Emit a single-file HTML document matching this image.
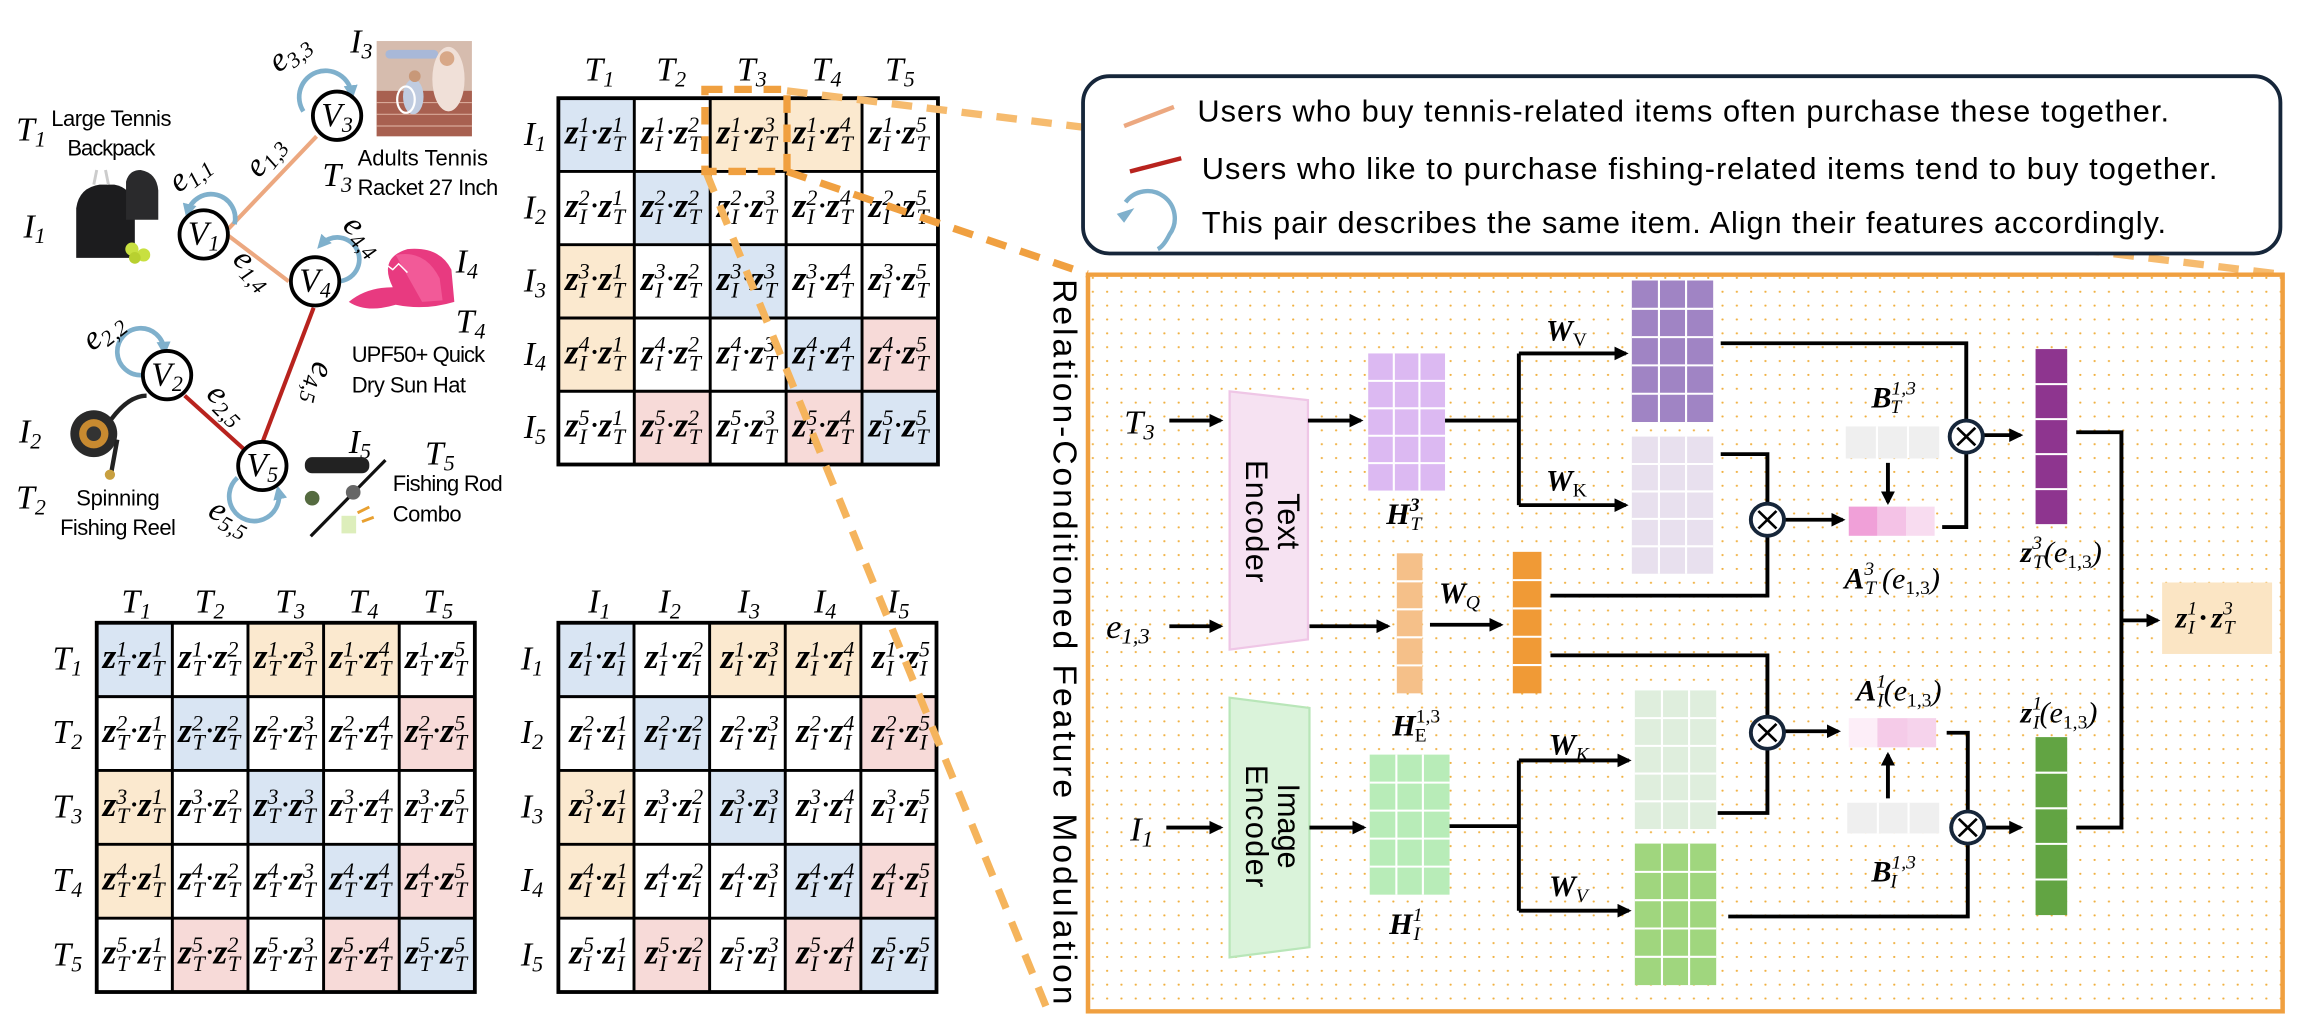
<!DOCTYPE html>
<html><head><meta charset="utf-8"><style>
html,body{margin:0;padding:0;background:#fff}
svg{display:block}
.c{font:italic 24px "Liberation Serif",serif}
.b{font-weight:bold}
.s{font-size:15px}
.m{font:italic 23px "Liberation Serif",serif}
.bm{font:bold italic 20px "Liberation Serif",serif}
.ss{font-size:13px}
.sans{font-family:"Liberation Sans",sans-serif}
</style></head><body>
<svg width="2298" height="1014" viewBox="0 0 1568 692" preserveAspectRatio="none" xmlns="http://www.w3.org/2000/svg">
<defs>
<marker id="a" viewBox="0 0 10 10" refX="8" refY="5" markerWidth="3.6" markerHeight="3.6" orient="auto"><path d="M0,0L10,5L0,10z" fill="#000"/></marker>
<marker id="bl" viewBox="0 0 10 10" refX="6" refY="5" markerWidth="3" markerHeight="3" orient="auto"><path d="M0,0L10,5L0,10z" fill="#7fb0cc"/></marker>
<pattern id="dots" width="9.5" height="9.5" patternUnits="userSpaceOnUse"><circle cx="4.7" cy="4.7" r="0.75" fill="#f0b040"/></pattern>
</defs>
<rect width="1568" height="692" fill="#fff"/>

<!-- ================= GRAPH ================= -->
<g stroke-width="2.8" fill="none">
<line x1="156" y1="156" x2="216" y2="93" stroke="#eca880"/>
<line x1="156" y1="161" x2="197" y2="192" stroke="#eca880"/>
<line x1="214" y1="210" x2="179" y2="302" stroke="#b8231e"/>
<line x1="126" y1="270" x2="167" y2="307" stroke="#b8231e"/>
</g>
<g stroke="#7fb0cc" stroke-width="3.2" fill="none" marker-end="url(#bl)">
<path d="M207,76 A18,18 0 1,1 240,64"/>
<path d="M160,153 A16,16 0 1,0 128,145"/>
<path d="M231,192 A15,15 0 1,0 219,167"/>
<path d="M97,256 A16,16 0 1,1 112,239"/>
<path d="M162,326 A17,17 0 1,0 190,335"/>
</g>
<g fill="#fff" stroke="#000" stroke-width="2.6">
<circle cx="139" cy="160" r="16.5"/><circle cx="230" cy="79" r="16.5"/><circle cx="215" cy="192" r="16.5"/><circle cx="114" cy="256" r="16.5"/><circle cx="179" cy="318" r="16.5"/>
</g>
<g class="m" text-anchor="middle">
<text x="139" y="167">V<tspan class="s" dy="4">1</tspan></text>
<text x="230" y="86">V<tspan class="s" dy="4">3</tspan></text>
<text x="215" y="199">V<tspan class="s" dy="4">4</tspan></text>
<text x="114" y="263">V<tspan class="s" dy="4">2</tspan></text>
<text x="179" y="325">V<tspan class="s" dy="4">5</tspan></text>
</g>
<g class="m" font-size="21">
<text transform="translate(190,50) rotate(-38)">e<tspan class="s" dy="4">3,3</tspan></text>
<text transform="translate(122,132) rotate(-38)">e<tspan class="s" dy="4">1,1</tspan></text>
<text transform="translate(177,122) rotate(-52)">e<tspan class="s" dy="4">1,3</tspan></text>
<text transform="translate(158,178) rotate(45)">e<tspan class="s" dy="4">1,4</tspan></text>
<text transform="translate(233,155) rotate(45)">e<tspan class="s" dy="4">4,4</tspan></text>
<text transform="translate(63,240) rotate(-38)">e<tspan class="s" dy="4">2,2</tspan></text>
<text transform="translate(140,270) rotate(45)">e<tspan class="s" dy="4">2,5</tspan></text>
<text transform="translate(214,246) rotate(102)">e<tspan class="s" dy="4">4,5</tspan></text>
<text transform="translate(141,352) rotate(28)">e<tspan class="s" dy="4">5,5</tspan></text>
</g>
<g class="m" font-size="24">
<text x="11" y="96">T<tspan class="s" dy="4">1</tspan></text>
<text x="16" y="162">I<tspan class="s" dy="4">1</tspan></text>
<text x="239" y="36">I<tspan class="s" dy="4">3</tspan></text>
<text x="220" y="127">T<tspan class="s" dy="4">3</tspan></text>
<text x="311" y="186">I<tspan class="s" dy="4">4</tspan></text>
<text x="311" y="227">T<tspan class="s" dy="4">4</tspan></text>
<text x="13" y="302">I<tspan class="s" dy="4">2</tspan></text>
<text x="11" y="347">T<tspan class="s" dy="4">2</tspan></text>
<text x="238" y="309">I<tspan class="s" dy="4">5</tspan></text>
<text x="290" y="317">T<tspan class="s" dy="4">5</tspan></text>
</g>
<g class="sans" font-size="15" fill="#000">
<text x="35" y="86" textLength="82">Large Tennis</text>
<text x="46" y="106" textLength="60">Backpack</text>
<text x="244" y="113" textLength="89">Adults Tennis</text>
<text x="244" y="133" textLength="96">Racket 27 Inch</text>
<text x="240" y="247" textLength="91">UPF50+ Quick</text>
<text x="240" y="268" textLength="78">Dry Sun Hat</text>
<text x="52" y="345" textLength="57">Spinning</text>
<text x="41" y="365" textLength="79">Fishing Reel</text>
<text x="268" y="335" textLength="75">Fishing Rod</text>
<text x="268" y="356" textLength="47">Combo</text>
</g>
<!-- images -->
<g>
<path d="M52,142 Q54,128 68,126 L78,126 Q90,128 92,142 L92,176 L52,176Z" fill="#1c1c1e"/>
<path d="M64,126 L66,116 M74,126 L72,116" stroke="#ccc" stroke-width="2"/>
<path d="M86,124 Q88,116 96,116 Q107,118 108,130 L108,150 L86,150Z" fill="#2a2a2c"/>
<circle cx="90" cy="170" r="4.5" fill="#c8e040"/><circle cx="98" cy="174" r="4.5" fill="#c8e040"/><circle cx="92" cy="176" r="4" fill="#b8d030"/>
<rect x="257" y="28" width="65" height="65" fill="#d6bcae"/>
<rect x="257" y="62" width="65" height="31" fill="#a86050"/>
<path d="M257,70 H322 M257,78 H322 M257,86 H322" stroke="#d8a898" stroke-width="0.8"/>
<rect x="263" y="34" width="36" height="6" rx="3" fill="#a8b8d8"/>
<ellipse cx="306" cy="54" rx="11" ry="22" fill="#f0e0d8"/><circle cx="305" cy="40" r="5" fill="#d8a888"/>
<ellipse cx="282" cy="66" rx="7" ry="12" fill="#c0cce0"/><circle cx="283" cy="52" r="4" fill="#c89878"/>
<ellipse cx="277" cy="68" rx="6" ry="9" fill="none" stroke="#fff" stroke-width="1.5"/>
<path d="M238,206 Q250,196 268,196 Q258,176 278,170 Q300,168 308,184 L310,206 Q290,212 270,208 Q250,214 238,206Z" fill="#e83a80"/>
<path d="M270,174 Q290,170 300,190 L302,205 L288,206Z" fill="#f25a98"/>
<path d="M258,186 l6,-5 l4,3 l4,-4 l6,6" stroke="#fff" stroke-width="1" fill="none"/>
<circle cx="64" cy="296" r="16" fill="#2a2a2a"/><circle cx="64" cy="296" r="10" fill="#c88a30"/><circle cx="64" cy="296" r="5" fill="#333"/>
<path d="M76,286 Q88,270 100,270 M80,300 L76,322" stroke="#222" stroke-width="3" fill="none"/>
<circle cx="75" cy="324" r="3.5" fill="#c8a040"/>
<rect x="208" y="312" width="44" height="11" rx="5" fill="#222"/>
<line x1="212" y1="366" x2="263" y2="314" stroke="#111" stroke-width="2.2"/>
<circle cx="241" cy="336" r="5" fill="#666"/>
<circle cx="213" cy="340" r="5" fill="#556b40"/>
<rect x="233" y="352" width="10" height="12" fill="#ddeebb"/>
<path d="M244,350 l8,-4 M247,356 l8,-3" stroke="#e8a030" stroke-width="2"/>
</g>

<!-- ================= TOP MATRIX ================= -->
<g>
<rect x="381" y="67" width="259" height="250" fill="#fff"/>
<g fill="#d9e5f3">
<rect x="381" y="67" width="51.8" height="50"/><rect x="432.8" y="117" width="51.8" height="50"/><rect x="484.6" y="167" width="51.8" height="50"/><rect x="536.4" y="217" width="51.8" height="50"/><rect x="588.2" y="267" width="51.8" height="50"/>
</g>
<g fill="#fbe9cf">
<rect x="484.6" y="67" width="51.8" height="50"/><rect x="536.4" y="67" width="51.8" height="50"/><rect x="381" y="167" width="51.8" height="50"/><rect x="381" y="217" width="51.8" height="50"/>
</g>
<g fill="#f7dad8">
<rect x="588.2" y="217" width="51.8" height="50"/><rect x="432.8" y="267" width="51.8" height="50"/><rect x="536.4" y="267" width="51.8" height="50"/>
</g>
<path d="M432.8,67V317M484.6,67V317M536.4,67V317M588.2,67V317M381,117H640M381,167H640M381,217H640M381,267H640" stroke="#000" stroke-width="2"/>
<rect x="381" y="67" width="259" height="250" fill="none" stroke="#000" stroke-width="2.6"/>
</g>
<g class="m" font-size="24" text-anchor="middle">
<text x="409" y="55">T<tspan class="s" dy="4">1</tspan></text><text x="458" y="55">T<tspan class="s" dy="4">2</tspan></text><text x="513" y="55">T<tspan class="s" dy="4">3</tspan></text><text x="564" y="55">T<tspan class="s" dy="4">4</tspan></text><text x="614" y="55">T<tspan class="s" dy="4">5</tspan></text>
<text x="365" y="99">I<tspan class="s" dy="4">1</tspan></text><text x="365" y="149">I<tspan class="s" dy="4">2</tspan></text><text x="365" y="199">I<tspan class="s" dy="4">3</tspan></text><text x="365" y="249">I<tspan class="s" dy="4">4</tspan></text><text x="365" y="299">I<tspan class="s" dy="4">5</tspan></text>
</g>
<g class="c" transform="translate(-1.5,0)">
<text x="387" y="98"><tspan class="b">z</tspan><tspan class="s" dy="-8">1</tspan><tspan class="s" dx="-7" dy="13">I</tspan><tspan dx="2" dy="-5">·</tspan><tspan class="b">z</tspan><tspan class="s" dy="-8">1</tspan><tspan class="s" dx="-7" dy="13">T</tspan></text>
<text x="438.8" y="98"><tspan class="b">z</tspan><tspan class="s" dy="-8">1</tspan><tspan class="s" dx="-7" dy="13">I</tspan><tspan dx="2" dy="-5">·</tspan><tspan class="b">z</tspan><tspan class="s" dy="-8">2</tspan><tspan class="s" dx="-7" dy="13">T</tspan></text>
<text x="490.6" y="98"><tspan class="b">z</tspan><tspan class="s" dy="-8">1</tspan><tspan class="s" dx="-7" dy="13">I</tspan><tspan dx="2" dy="-5">·</tspan><tspan class="b">z</tspan><tspan class="s" dy="-8">3</tspan><tspan class="s" dx="-7" dy="13">T</tspan></text>
<text x="542.4" y="98"><tspan class="b">z</tspan><tspan class="s" dy="-8">1</tspan><tspan class="s" dx="-7" dy="13">I</tspan><tspan dx="2" dy="-5">·</tspan><tspan class="b">z</tspan><tspan class="s" dy="-8">4</tspan><tspan class="s" dx="-7" dy="13">T</tspan></text>
<text x="594.2" y="98"><tspan class="b">z</tspan><tspan class="s" dy="-8">1</tspan><tspan class="s" dx="-7" dy="13">I</tspan><tspan dx="2" dy="-5">·</tspan><tspan class="b">z</tspan><tspan class="s" dy="-8">5</tspan><tspan class="s" dx="-7" dy="13">T</tspan></text>
<text x="387" y="148"><tspan class="b">z</tspan><tspan class="s" dy="-8">2</tspan><tspan class="s" dx="-7" dy="13">I</tspan><tspan dx="2" dy="-5">·</tspan><tspan class="b">z</tspan><tspan class="s" dy="-8">1</tspan><tspan class="s" dx="-7" dy="13">T</tspan></text>
<text x="438.8" y="148"><tspan class="b">z</tspan><tspan class="s" dy="-8">2</tspan><tspan class="s" dx="-7" dy="13">I</tspan><tspan dx="2" dy="-5">·</tspan><tspan class="b">z</tspan><tspan class="s" dy="-8">2</tspan><tspan class="s" dx="-7" dy="13">T</tspan></text>
<text x="490.6" y="148"><tspan class="b">z</tspan><tspan class="s" dy="-8">2</tspan><tspan class="s" dx="-7" dy="13">I</tspan><tspan dx="2" dy="-5">·</tspan><tspan class="b">z</tspan><tspan class="s" dy="-8">3</tspan><tspan class="s" dx="-7" dy="13">T</tspan></text>
<text x="542.4" y="148"><tspan class="b">z</tspan><tspan class="s" dy="-8">2</tspan><tspan class="s" dx="-7" dy="13">I</tspan><tspan dx="2" dy="-5">·</tspan><tspan class="b">z</tspan><tspan class="s" dy="-8">4</tspan><tspan class="s" dx="-7" dy="13">T</tspan></text>
<text x="594.2" y="148"><tspan class="b">z</tspan><tspan class="s" dy="-8">2</tspan><tspan class="s" dx="-7" dy="13">I</tspan><tspan dx="2" dy="-5">·</tspan><tspan class="b">z</tspan><tspan class="s" dy="-8">5</tspan><tspan class="s" dx="-7" dy="13">T</tspan></text>
<text x="387" y="198"><tspan class="b">z</tspan><tspan class="s" dy="-8">3</tspan><tspan class="s" dx="-7" dy="13">I</tspan><tspan dx="2" dy="-5">·</tspan><tspan class="b">z</tspan><tspan class="s" dy="-8">1</tspan><tspan class="s" dx="-7" dy="13">T</tspan></text>
<text x="438.8" y="198"><tspan class="b">z</tspan><tspan class="s" dy="-8">3</tspan><tspan class="s" dx="-7" dy="13">I</tspan><tspan dx="2" dy="-5">·</tspan><tspan class="b">z</tspan><tspan class="s" dy="-8">2</tspan><tspan class="s" dx="-7" dy="13">T</tspan></text>
<text x="490.6" y="198"><tspan class="b">z</tspan><tspan class="s" dy="-8">3</tspan><tspan class="s" dx="-7" dy="13">I</tspan><tspan dx="2" dy="-5">·</tspan><tspan class="b">z</tspan><tspan class="s" dy="-8">3</tspan><tspan class="s" dx="-7" dy="13">T</tspan></text>
<text x="542.4" y="198"><tspan class="b">z</tspan><tspan class="s" dy="-8">3</tspan><tspan class="s" dx="-7" dy="13">I</tspan><tspan dx="2" dy="-5">·</tspan><tspan class="b">z</tspan><tspan class="s" dy="-8">4</tspan><tspan class="s" dx="-7" dy="13">T</tspan></text>
<text x="594.2" y="198"><tspan class="b">z</tspan><tspan class="s" dy="-8">3</tspan><tspan class="s" dx="-7" dy="13">I</tspan><tspan dx="2" dy="-5">·</tspan><tspan class="b">z</tspan><tspan class="s" dy="-8">5</tspan><tspan class="s" dx="-7" dy="13">T</tspan></text>
<text x="387" y="248"><tspan class="b">z</tspan><tspan class="s" dy="-8">4</tspan><tspan class="s" dx="-7" dy="13">I</tspan><tspan dx="2" dy="-5">·</tspan><tspan class="b">z</tspan><tspan class="s" dy="-8">1</tspan><tspan class="s" dx="-7" dy="13">T</tspan></text>
<text x="438.8" y="248"><tspan class="b">z</tspan><tspan class="s" dy="-8">4</tspan><tspan class="s" dx="-7" dy="13">I</tspan><tspan dx="2" dy="-5">·</tspan><tspan class="b">z</tspan><tspan class="s" dy="-8">2</tspan><tspan class="s" dx="-7" dy="13">T</tspan></text>
<text x="490.6" y="248"><tspan class="b">z</tspan><tspan class="s" dy="-8">4</tspan><tspan class="s" dx="-7" dy="13">I</tspan><tspan dx="2" dy="-5">·</tspan><tspan class="b">z</tspan><tspan class="s" dy="-8">3</tspan><tspan class="s" dx="-7" dy="13">T</tspan></text>
<text x="542.4" y="248"><tspan class="b">z</tspan><tspan class="s" dy="-8">4</tspan><tspan class="s" dx="-7" dy="13">I</tspan><tspan dx="2" dy="-5">·</tspan><tspan class="b">z</tspan><tspan class="s" dy="-8">4</tspan><tspan class="s" dx="-7" dy="13">T</tspan></text>
<text x="594.2" y="248"><tspan class="b">z</tspan><tspan class="s" dy="-8">4</tspan><tspan class="s" dx="-7" dy="13">I</tspan><tspan dx="2" dy="-5">·</tspan><tspan class="b">z</tspan><tspan class="s" dy="-8">5</tspan><tspan class="s" dx="-7" dy="13">T</tspan></text>
<text x="387" y="298"><tspan class="b">z</tspan><tspan class="s" dy="-8">5</tspan><tspan class="s" dx="-7" dy="13">I</tspan><tspan dx="2" dy="-5">·</tspan><tspan class="b">z</tspan><tspan class="s" dy="-8">1</tspan><tspan class="s" dx="-7" dy="13">T</tspan></text>
<text x="438.8" y="298"><tspan class="b">z</tspan><tspan class="s" dy="-8">5</tspan><tspan class="s" dx="-7" dy="13">I</tspan><tspan dx="2" dy="-5">·</tspan><tspan class="b">z</tspan><tspan class="s" dy="-8">2</tspan><tspan class="s" dx="-7" dy="13">T</tspan></text>
<text x="490.6" y="298"><tspan class="b">z</tspan><tspan class="s" dy="-8">5</tspan><tspan class="s" dx="-7" dy="13">I</tspan><tspan dx="2" dy="-5">·</tspan><tspan class="b">z</tspan><tspan class="s" dy="-8">3</tspan><tspan class="s" dx="-7" dy="13">T</tspan></text>
<text x="542.4" y="298"><tspan class="b">z</tspan><tspan class="s" dy="-8">5</tspan><tspan class="s" dx="-7" dy="13">I</tspan><tspan dx="2" dy="-5">·</tspan><tspan class="b">z</tspan><tspan class="s" dy="-8">4</tspan><tspan class="s" dx="-7" dy="13">T</tspan></text>
<text x="594.2" y="298"><tspan class="b">z</tspan><tspan class="s" dy="-8">5</tspan><tspan class="s" dx="-7" dy="13">I</tspan><tspan dx="2" dy="-5">·</tspan><tspan class="b">z</tspan><tspan class="s" dy="-8">5</tspan><tspan class="s" dx="-7" dy="13">T</tspan></text>
</g>

<!-- ================= BOTTOM-LEFT MATRIX (T·T) ================= -->
<g>
<rect x="66" y="425" width="258" height="252" fill="#fff"/>
<g fill="#d9e5f3">
<rect x="66" y="425" width="51.6" height="50.4"/><rect x="117.6" y="475.4" width="51.6" height="50.4"/><rect x="169.2" y="525.8" width="51.6" height="50.4"/><rect x="220.8" y="576.2" width="51.6" height="50.4"/><rect x="272.4" y="626.6" width="51.6" height="50.4"/>
</g>
<g fill="#fbe9cf">
<rect x="169.2" y="425" width="51.6" height="50.4"/><rect x="220.8" y="425" width="51.6" height="50.4"/><rect x="66" y="525.8" width="51.6" height="50.4"/><rect x="66" y="576.2" width="51.6" height="50.4"/>
</g>
<g fill="#f7dad8">
<rect x="272.4" y="475.4" width="51.6" height="50.4"/><rect x="272.4" y="576.2" width="51.6" height="50.4"/><rect x="117.6" y="626.6" width="51.6" height="50.4"/><rect x="220.8" y="626.6" width="51.6" height="50.4"/>
</g>
<path d="M117.6,425V677M169.2,425V677M220.8,425V677M272.4,425V677M66,475.4H324M66,525.8H324M66,576.2H324M66,626.6H324" stroke="#000" stroke-width="2"/>
<rect x="66" y="425" width="258" height="252" fill="none" stroke="#000" stroke-width="2.6"/>
</g>
<!-- BOTTOM-RIGHT (I·I) -->
<g>
<rect x="381" y="425" width="258" height="252" fill="#fff"/>
<g fill="#d9e5f3">
<rect x="381" y="425" width="51.6" height="50.4"/><rect x="432.6" y="475.4" width="51.6" height="50.4"/><rect x="484.2" y="525.8" width="51.6" height="50.4"/><rect x="535.8" y="576.2" width="51.6" height="50.4"/><rect x="587.4" y="626.6" width="51.6" height="50.4"/>
</g>
<g fill="#fbe9cf">
<rect x="484.2" y="425" width="51.6" height="50.4"/><rect x="535.8" y="425" width="51.6" height="50.4"/><rect x="381" y="525.8" width="51.6" height="50.4"/><rect x="381" y="576.2" width="51.6" height="50.4"/>
</g>
<g fill="#f7dad8">
<rect x="587.4" y="475.4" width="51.6" height="50.4"/><rect x="587.4" y="576.2" width="51.6" height="50.4"/><rect x="432.6" y="626.6" width="51.6" height="50.4"/><rect x="535.8" y="626.6" width="51.6" height="50.4"/>
</g>
<path d="M432.6,425V677M484.2,425V677M535.8,425V677M587.4,425V677M381,475.4H639M381,525.8H639M381,576.2H639M381,626.6H639" stroke="#000" stroke-width="2"/>
<rect x="381" y="425" width="258" height="252" fill="none" stroke="#000" stroke-width="2.6"/>
</g>
<g class="m" font-size="24" text-anchor="middle">
<text x="93" y="418">T<tspan class="s" dy="4">1</tspan></text><text x="143" y="418">T<tspan class="s" dy="4">2</tspan></text><text x="198" y="418">T<tspan class="s" dy="4">3</tspan></text><text x="248" y="418">T<tspan class="s" dy="4">4</tspan></text><text x="299" y="418">T<tspan class="s" dy="4">5</tspan></text>
<text x="46" y="457">T<tspan class="s" dy="4">1</tspan></text><text x="46" y="507">T<tspan class="s" dy="4">2</tspan></text><text x="46" y="558">T<tspan class="s" dy="4">3</tspan></text><text x="46" y="608">T<tspan class="s" dy="4">4</tspan></text><text x="46" y="659">T<tspan class="s" dy="4">5</tspan></text>
<text x="409" y="418">I<tspan class="s" dy="4">1</tspan></text><text x="457" y="418">I<tspan class="s" dy="4">2</tspan></text><text x="511" y="418">I<tspan class="s" dy="4">3</tspan></text><text x="563" y="418">I<tspan class="s" dy="4">4</tspan></text><text x="613" y="418">I<tspan class="s" dy="4">5</tspan></text>
<text x="363" y="457">I<tspan class="s" dy="4">1</tspan></text><text x="363" y="507">I<tspan class="s" dy="4">2</tspan></text><text x="363" y="558">I<tspan class="s" dy="4">3</tspan></text><text x="363" y="608">I<tspan class="s" dy="4">4</tspan></text><text x="363" y="659">I<tspan class="s" dy="4">5</tspan></text>
</g>
<g class="c" transform="translate(-2,0)">
<text x="72" y="456"><tspan class="b">z</tspan><tspan class="s" dy="-8">1</tspan><tspan class="s" dx="-7" dy="13">T</tspan><tspan dy="-5">·</tspan><tspan class="b">z</tspan><tspan class="s" dy="-8">1</tspan><tspan class="s" dx="-7" dy="13">T</tspan></text>
<text x="123.6" y="456"><tspan class="b">z</tspan><tspan class="s" dy="-8">1</tspan><tspan class="s" dx="-7" dy="13">T</tspan><tspan dy="-5">·</tspan><tspan class="b">z</tspan><tspan class="s" dy="-8">2</tspan><tspan class="s" dx="-7" dy="13">T</tspan></text>
<text x="175.2" y="456"><tspan class="b">z</tspan><tspan class="s" dy="-8">1</tspan><tspan class="s" dx="-7" dy="13">T</tspan><tspan dy="-5">·</tspan><tspan class="b">z</tspan><tspan class="s" dy="-8">3</tspan><tspan class="s" dx="-7" dy="13">T</tspan></text>
<text x="226.8" y="456"><tspan class="b">z</tspan><tspan class="s" dy="-8">1</tspan><tspan class="s" dx="-7" dy="13">T</tspan><tspan dy="-5">·</tspan><tspan class="b">z</tspan><tspan class="s" dy="-8">4</tspan><tspan class="s" dx="-7" dy="13">T</tspan></text>
<text x="278.4" y="456"><tspan class="b">z</tspan><tspan class="s" dy="-8">1</tspan><tspan class="s" dx="-7" dy="13">T</tspan><tspan dy="-5">·</tspan><tspan class="b">z</tspan><tspan class="s" dy="-8">5</tspan><tspan class="s" dx="-7" dy="13">T</tspan></text>
<text x="72" y="506.4"><tspan class="b">z</tspan><tspan class="s" dy="-8">2</tspan><tspan class="s" dx="-7" dy="13">T</tspan><tspan dy="-5">·</tspan><tspan class="b">z</tspan><tspan class="s" dy="-8">1</tspan><tspan class="s" dx="-7" dy="13">T</tspan></text>
<text x="123.6" y="506.4"><tspan class="b">z</tspan><tspan class="s" dy="-8">2</tspan><tspan class="s" dx="-7" dy="13">T</tspan><tspan dy="-5">·</tspan><tspan class="b">z</tspan><tspan class="s" dy="-8">2</tspan><tspan class="s" dx="-7" dy="13">T</tspan></text>
<text x="175.2" y="506.4"><tspan class="b">z</tspan><tspan class="s" dy="-8">2</tspan><tspan class="s" dx="-7" dy="13">T</tspan><tspan dy="-5">·</tspan><tspan class="b">z</tspan><tspan class="s" dy="-8">3</tspan><tspan class="s" dx="-7" dy="13">T</tspan></text>
<text x="226.8" y="506.4"><tspan class="b">z</tspan><tspan class="s" dy="-8">2</tspan><tspan class="s" dx="-7" dy="13">T</tspan><tspan dy="-5">·</tspan><tspan class="b">z</tspan><tspan class="s" dy="-8">4</tspan><tspan class="s" dx="-7" dy="13">T</tspan></text>
<text x="278.4" y="506.4"><tspan class="b">z</tspan><tspan class="s" dy="-8">2</tspan><tspan class="s" dx="-7" dy="13">T</tspan><tspan dy="-5">·</tspan><tspan class="b">z</tspan><tspan class="s" dy="-8">5</tspan><tspan class="s" dx="-7" dy="13">T</tspan></text>
<text x="72" y="556.8"><tspan class="b">z</tspan><tspan class="s" dy="-8">3</tspan><tspan class="s" dx="-7" dy="13">T</tspan><tspan dy="-5">·</tspan><tspan class="b">z</tspan><tspan class="s" dy="-8">1</tspan><tspan class="s" dx="-7" dy="13">T</tspan></text>
<text x="123.6" y="556.8"><tspan class="b">z</tspan><tspan class="s" dy="-8">3</tspan><tspan class="s" dx="-7" dy="13">T</tspan><tspan dy="-5">·</tspan><tspan class="b">z</tspan><tspan class="s" dy="-8">2</tspan><tspan class="s" dx="-7" dy="13">T</tspan></text>
<text x="175.2" y="556.8"><tspan class="b">z</tspan><tspan class="s" dy="-8">3</tspan><tspan class="s" dx="-7" dy="13">T</tspan><tspan dy="-5">·</tspan><tspan class="b">z</tspan><tspan class="s" dy="-8">3</tspan><tspan class="s" dx="-7" dy="13">T</tspan></text>
<text x="226.8" y="556.8"><tspan class="b">z</tspan><tspan class="s" dy="-8">3</tspan><tspan class="s" dx="-7" dy="13">T</tspan><tspan dy="-5">·</tspan><tspan class="b">z</tspan><tspan class="s" dy="-8">4</tspan><tspan class="s" dx="-7" dy="13">T</tspan></text>
<text x="278.4" y="556.8"><tspan class="b">z</tspan><tspan class="s" dy="-8">3</tspan><tspan class="s" dx="-7" dy="13">T</tspan><tspan dy="-5">·</tspan><tspan class="b">z</tspan><tspan class="s" dy="-8">5</tspan><tspan class="s" dx="-7" dy="13">T</tspan></text>
<text x="72" y="607.2"><tspan class="b">z</tspan><tspan class="s" dy="-8">4</tspan><tspan class="s" dx="-7" dy="13">T</tspan><tspan dy="-5">·</tspan><tspan class="b">z</tspan><tspan class="s" dy="-8">1</tspan><tspan class="s" dx="-7" dy="13">T</tspan></text>
<text x="123.6" y="607.2"><tspan class="b">z</tspan><tspan class="s" dy="-8">4</tspan><tspan class="s" dx="-7" dy="13">T</tspan><tspan dy="-5">·</tspan><tspan class="b">z</tspan><tspan class="s" dy="-8">2</tspan><tspan class="s" dx="-7" dy="13">T</tspan></text>
<text x="175.2" y="607.2"><tspan class="b">z</tspan><tspan class="s" dy="-8">4</tspan><tspan class="s" dx="-7" dy="13">T</tspan><tspan dy="-5">·</tspan><tspan class="b">z</tspan><tspan class="s" dy="-8">3</tspan><tspan class="s" dx="-7" dy="13">T</tspan></text>
<text x="226.8" y="607.2"><tspan class="b">z</tspan><tspan class="s" dy="-8">4</tspan><tspan class="s" dx="-7" dy="13">T</tspan><tspan dy="-5">·</tspan><tspan class="b">z</tspan><tspan class="s" dy="-8">4</tspan><tspan class="s" dx="-7" dy="13">T</tspan></text>
<text x="278.4" y="607.2"><tspan class="b">z</tspan><tspan class="s" dy="-8">4</tspan><tspan class="s" dx="-7" dy="13">T</tspan><tspan dy="-5">·</tspan><tspan class="b">z</tspan><tspan class="s" dy="-8">5</tspan><tspan class="s" dx="-7" dy="13">T</tspan></text>
<text x="72" y="657.6"><tspan class="b">z</tspan><tspan class="s" dy="-8">5</tspan><tspan class="s" dx="-7" dy="13">T</tspan><tspan dy="-5">·</tspan><tspan class="b">z</tspan><tspan class="s" dy="-8">1</tspan><tspan class="s" dx="-7" dy="13">T</tspan></text>
<text x="123.6" y="657.6"><tspan class="b">z</tspan><tspan class="s" dy="-8">5</tspan><tspan class="s" dx="-7" dy="13">T</tspan><tspan dy="-5">·</tspan><tspan class="b">z</tspan><tspan class="s" dy="-8">2</tspan><tspan class="s" dx="-7" dy="13">T</tspan></text>
<text x="175.2" y="657.6"><tspan class="b">z</tspan><tspan class="s" dy="-8">5</tspan><tspan class="s" dx="-7" dy="13">T</tspan><tspan dy="-5">·</tspan><tspan class="b">z</tspan><tspan class="s" dy="-8">3</tspan><tspan class="s" dx="-7" dy="13">T</tspan></text>
<text x="226.8" y="657.6"><tspan class="b">z</tspan><tspan class="s" dy="-8">5</tspan><tspan class="s" dx="-7" dy="13">T</tspan><tspan dy="-5">·</tspan><tspan class="b">z</tspan><tspan class="s" dy="-8">4</tspan><tspan class="s" dx="-7" dy="13">T</tspan></text>
<text x="278.4" y="657.6"><tspan class="b">z</tspan><tspan class="s" dy="-8">5</tspan><tspan class="s" dx="-7" dy="13">T</tspan><tspan dy="-5">·</tspan><tspan class="b">z</tspan><tspan class="s" dy="-8">5</tspan><tspan class="s" dx="-7" dy="13">T</tspan></text>
</g>
<g class="c" transform="translate(-1.5,0)">
<text x="390" y="456"><tspan class="b">z</tspan><tspan class="s" dy="-8">1</tspan><tspan class="s" dx="-7" dy="13">I</tspan><tspan dx="2" dy="-5">·</tspan><tspan class="b">z</tspan><tspan class="s" dy="-8">1</tspan><tspan class="s" dx="-7" dy="13">I</tspan></text>
<text x="441.6" y="456"><tspan class="b">z</tspan><tspan class="s" dy="-8">1</tspan><tspan class="s" dx="-7" dy="13">I</tspan><tspan dx="2" dy="-5">·</tspan><tspan class="b">z</tspan><tspan class="s" dy="-8">2</tspan><tspan class="s" dx="-7" dy="13">I</tspan></text>
<text x="493.2" y="456"><tspan class="b">z</tspan><tspan class="s" dy="-8">1</tspan><tspan class="s" dx="-7" dy="13">I</tspan><tspan dx="2" dy="-5">·</tspan><tspan class="b">z</tspan><tspan class="s" dy="-8">3</tspan><tspan class="s" dx="-7" dy="13">I</tspan></text>
<text x="544.8" y="456"><tspan class="b">z</tspan><tspan class="s" dy="-8">1</tspan><tspan class="s" dx="-7" dy="13">I</tspan><tspan dx="2" dy="-5">·</tspan><tspan class="b">z</tspan><tspan class="s" dy="-8">4</tspan><tspan class="s" dx="-7" dy="13">I</tspan></text>
<text x="596.4" y="456"><tspan class="b">z</tspan><tspan class="s" dy="-8">1</tspan><tspan class="s" dx="-7" dy="13">I</tspan><tspan dx="2" dy="-5">·</tspan><tspan class="b">z</tspan><tspan class="s" dy="-8">5</tspan><tspan class="s" dx="-7" dy="13">I</tspan></text>
<text x="390" y="506.4"><tspan class="b">z</tspan><tspan class="s" dy="-8">2</tspan><tspan class="s" dx="-7" dy="13">I</tspan><tspan dx="2" dy="-5">·</tspan><tspan class="b">z</tspan><tspan class="s" dy="-8">1</tspan><tspan class="s" dx="-7" dy="13">I</tspan></text>
<text x="441.6" y="506.4"><tspan class="b">z</tspan><tspan class="s" dy="-8">2</tspan><tspan class="s" dx="-7" dy="13">I</tspan><tspan dx="2" dy="-5">·</tspan><tspan class="b">z</tspan><tspan class="s" dy="-8">2</tspan><tspan class="s" dx="-7" dy="13">I</tspan></text>
<text x="493.2" y="506.4"><tspan class="b">z</tspan><tspan class="s" dy="-8">2</tspan><tspan class="s" dx="-7" dy="13">I</tspan><tspan dx="2" dy="-5">·</tspan><tspan class="b">z</tspan><tspan class="s" dy="-8">3</tspan><tspan class="s" dx="-7" dy="13">I</tspan></text>
<text x="544.8" y="506.4"><tspan class="b">z</tspan><tspan class="s" dy="-8">2</tspan><tspan class="s" dx="-7" dy="13">I</tspan><tspan dx="2" dy="-5">·</tspan><tspan class="b">z</tspan><tspan class="s" dy="-8">4</tspan><tspan class="s" dx="-7" dy="13">I</tspan></text>
<text x="596.4" y="506.4"><tspan class="b">z</tspan><tspan class="s" dy="-8">2</tspan><tspan class="s" dx="-7" dy="13">I</tspan><tspan dx="2" dy="-5">·</tspan><tspan class="b">z</tspan><tspan class="s" dy="-8">5</tspan><tspan class="s" dx="-7" dy="13">I</tspan></text>
<text x="390" y="556.8"><tspan class="b">z</tspan><tspan class="s" dy="-8">3</tspan><tspan class="s" dx="-7" dy="13">I</tspan><tspan dx="2" dy="-5">·</tspan><tspan class="b">z</tspan><tspan class="s" dy="-8">1</tspan><tspan class="s" dx="-7" dy="13">I</tspan></text>
<text x="441.6" y="556.8"><tspan class="b">z</tspan><tspan class="s" dy="-8">3</tspan><tspan class="s" dx="-7" dy="13">I</tspan><tspan dx="2" dy="-5">·</tspan><tspan class="b">z</tspan><tspan class="s" dy="-8">2</tspan><tspan class="s" dx="-7" dy="13">I</tspan></text>
<text x="493.2" y="556.8"><tspan class="b">z</tspan><tspan class="s" dy="-8">3</tspan><tspan class="s" dx="-7" dy="13">I</tspan><tspan dx="2" dy="-5">·</tspan><tspan class="b">z</tspan><tspan class="s" dy="-8">3</tspan><tspan class="s" dx="-7" dy="13">I</tspan></text>
<text x="544.8" y="556.8"><tspan class="b">z</tspan><tspan class="s" dy="-8">3</tspan><tspan class="s" dx="-7" dy="13">I</tspan><tspan dx="2" dy="-5">·</tspan><tspan class="b">z</tspan><tspan class="s" dy="-8">4</tspan><tspan class="s" dx="-7" dy="13">I</tspan></text>
<text x="596.4" y="556.8"><tspan class="b">z</tspan><tspan class="s" dy="-8">3</tspan><tspan class="s" dx="-7" dy="13">I</tspan><tspan dx="2" dy="-5">·</tspan><tspan class="b">z</tspan><tspan class="s" dy="-8">5</tspan><tspan class="s" dx="-7" dy="13">I</tspan></text>
<text x="390" y="607.2"><tspan class="b">z</tspan><tspan class="s" dy="-8">4</tspan><tspan class="s" dx="-7" dy="13">I</tspan><tspan dx="2" dy="-5">·</tspan><tspan class="b">z</tspan><tspan class="s" dy="-8">1</tspan><tspan class="s" dx="-7" dy="13">I</tspan></text>
<text x="441.6" y="607.2"><tspan class="b">z</tspan><tspan class="s" dy="-8">4</tspan><tspan class="s" dx="-7" dy="13">I</tspan><tspan dx="2" dy="-5">·</tspan><tspan class="b">z</tspan><tspan class="s" dy="-8">2</tspan><tspan class="s" dx="-7" dy="13">I</tspan></text>
<text x="493.2" y="607.2"><tspan class="b">z</tspan><tspan class="s" dy="-8">4</tspan><tspan class="s" dx="-7" dy="13">I</tspan><tspan dx="2" dy="-5">·</tspan><tspan class="b">z</tspan><tspan class="s" dy="-8">3</tspan><tspan class="s" dx="-7" dy="13">I</tspan></text>
<text x="544.8" y="607.2"><tspan class="b">z</tspan><tspan class="s" dy="-8">4</tspan><tspan class="s" dx="-7" dy="13">I</tspan><tspan dx="2" dy="-5">·</tspan><tspan class="b">z</tspan><tspan class="s" dy="-8">4</tspan><tspan class="s" dx="-7" dy="13">I</tspan></text>
<text x="596.4" y="607.2"><tspan class="b">z</tspan><tspan class="s" dy="-8">4</tspan><tspan class="s" dx="-7" dy="13">I</tspan><tspan dx="2" dy="-5">·</tspan><tspan class="b">z</tspan><tspan class="s" dy="-8">5</tspan><tspan class="s" dx="-7" dy="13">I</tspan></text>
<text x="390" y="657.6"><tspan class="b">z</tspan><tspan class="s" dy="-8">5</tspan><tspan class="s" dx="-7" dy="13">I</tspan><tspan dx="2" dy="-5">·</tspan><tspan class="b">z</tspan><tspan class="s" dy="-8">1</tspan><tspan class="s" dx="-7" dy="13">I</tspan></text>
<text x="441.6" y="657.6"><tspan class="b">z</tspan><tspan class="s" dy="-8">5</tspan><tspan class="s" dx="-7" dy="13">I</tspan><tspan dx="2" dy="-5">·</tspan><tspan class="b">z</tspan><tspan class="s" dy="-8">2</tspan><tspan class="s" dx="-7" dy="13">I</tspan></text>
<text x="493.2" y="657.6"><tspan class="b">z</tspan><tspan class="s" dy="-8">5</tspan><tspan class="s" dx="-7" dy="13">I</tspan><tspan dx="2" dy="-5">·</tspan><tspan class="b">z</tspan><tspan class="s" dy="-8">3</tspan><tspan class="s" dx="-7" dy="13">I</tspan></text>
<text x="544.8" y="657.6"><tspan class="b">z</tspan><tspan class="s" dy="-8">5</tspan><tspan class="s" dx="-7" dy="13">I</tspan><tspan dx="2" dy="-5">·</tspan><tspan class="b">z</tspan><tspan class="s" dy="-8">4</tspan><tspan class="s" dx="-7" dy="13">I</tspan></text>
<text x="596.4" y="657.6"><tspan class="b">z</tspan><tspan class="s" dy="-8">5</tspan><tspan class="s" dx="-7" dy="13">I</tspan><tspan dx="2" dy="-5">·</tspan><tspan class="b">z</tspan><tspan class="s" dy="-8">5</tspan><tspan class="s" dx="-7" dy="13">I</tspan></text>
</g>

<!-- ================= DASHED CONNECTORS ================= -->
<g fill="none" stroke-width="5">
<line x1="537" y1="62" x2="1555" y2="187" stroke="#f6bb6e" stroke-dasharray="14 10"/>
<line x1="537" y1="117" x2="742" y2="187" stroke="#f0a040" stroke-dasharray="14 10"/>
<line x1="482" y1="118" x2="715" y2="690" stroke="#f5b45c" stroke-dasharray="14 10"/>
<rect x="481" y="61" width="56" height="56" stroke="#f0a040" stroke-dasharray="12 8"/>
</g>

<!-- ================= LEGEND ================= -->
<rect x="739" y="52" width="817" height="121" rx="18" fill="#fff" stroke="#16263a" stroke-width="2.6"/>
<line x1="767" y1="86" x2="801" y2="73" stroke="#eca880" stroke-width="3"/>
<line x1="771" y1="117" x2="806" y2="108" stroke="#b8231e" stroke-width="3"/>
<path d="M768,138 A14,14 0 1,1 798,160 Q794,168 790,170" fill="none" stroke="#7fb0cc" stroke-width="3"/>
<path d="M762,146 L774,142 L767,152Z" fill="#7fb0cc"/>
<g class="sans" font-size="21">
<text x="817" y="83" textLength="663">Users who buy tennis-related items often purchase these together.</text>
<text x="820" y="122" textLength="693">Users who like to purchase fishing-related items tend to buy together.</text>
<text x="820" y="159" textLength="658">This pair describes the same item. Align their features accordingly.</text>
</g>

<text class="sans" font-size="23" text-anchor="middle" transform="translate(719,438) rotate(90)" textLength="495">Relation-Conditioned Feature Modulation</text>

<!-- ================= RIGHT PANEL ================= -->
<g transform="matrix(1.0279 0 0 0.99553 -30.6 5.27)">
<rect x="752" y="183" width="793" height="505" fill="#fff"/>
<rect x="752" y="183" width="793" height="505" fill="url(#dots)" stroke="#f0a040" stroke-width="3"/>

<path d="M846,263 L898,269 L898,433 L846,440Z" fill="#f6e2f2" stroke="#efc6e6" stroke-width="1.5"/>
<path d="M846,473 L899,480 L899,644 L846,651Z" fill="#daf3da" stroke="#b8e6b8" stroke-width="1.5"/>
<g class="sans" font-size="21" text-anchor="middle">
<text transform="translate(878,352) rotate(90)">Text</text>
<text transform="translate(857,352) rotate(90)" textLength="84">Encoder</text>
<text transform="translate(878,561) rotate(90)">Image</text>
<text transform="translate(857,561) rotate(90)" textLength="84">Encoder</text>
</g>

<rect x="938" y="237" width="51" height="94" fill="#dcb9f2"/>
<path d="M955,237V331M972,237V331M938,255.8H989M938,274.6H989M938,293.4H989M938,312.2H989" stroke="#fff" stroke-width="1.4"/>
<rect x="1113" y="187" width="54" height="97" fill="#a084c4"/>
<path d="M1131,187V284M1149,187V284M1113,206.4H1167M1113,225.8H1167M1113,245.2H1167M1113,264.6H1167" stroke="#fff" stroke-width="1.4"/>
<rect x="1113" y="294" width="54" height="94" fill="#e8e0ee"/>
<path d="M1131,294V388M1149,294V388M1113,312.8H1167M1113,331.6H1167M1113,350.4H1167M1113,369.2H1167" stroke="#fff" stroke-width="1.4"/>
<rect x="939" y="512" width="53" height="96" fill="#b8ecb8"/>
<path d="M956.7,512V608M974.3,512V608M939,531.2H992M939,550.4H992M939,569.6H992M939,588.8H992" stroke="#fff" stroke-width="1.4"/>
<rect x="1115" y="468" width="54" height="95" fill="#dfeedd"/>
<path d="M1133,468V563M1151,468V563M1115,487H1169M1115,506H1169M1115,525H1169M1115,544H1169" stroke="#fff" stroke-width="1.4"/>
<rect x="1115" y="573" width="54" height="97" fill="#a0d67e"/>
<path d="M1133,573V670M1151,573V670M1115,592.4H1169M1115,611.8H1169M1115,631.2H1169M1115,650.6H1169" stroke="#fff" stroke-width="1.4"/>
<rect x="957" y="374" width="17" height="96" fill="#f5c089"/>
<path d="M957,393.2H974M957,412.4H974M957,431.6H974M957,450.8H974" stroke="#fff" stroke-width="1.4"/>
<rect x="1034" y="373" width="19" height="97" fill="#f09a36"/>
<path d="M1034,392.4H1053M1034,411.8H1053M1034,431.2H1053M1034,450.6H1053" stroke="#fff" stroke-width="1.4"/>
<rect x="1381" y="234" width="21" height="120" fill="#8e358f"/>
<path d="M1381,258H1402M1381,282H1402M1381,306H1402M1381,330H1402" stroke="#fff" stroke-width="1.4"/>
<rect x="1381" y="500" width="21" height="122" fill="#62a443"/>
<path d="M1381,524.4H1402M1381,548.8H1402M1381,573.2H1402M1381,597.6H1402" stroke="#fff" stroke-width="1.4"/>
<rect x="1255" y="287" width="62" height="22" fill="#efefef"/>
<path d="M1275.7,287V309M1296.3,287V309" stroke="#fff" stroke-width="1.4"/>
<rect x="1257" y="342" width="19" height="20" fill="#f0a0d8"/><rect x="1276" y="342" width="19" height="20" fill="#f4c2e6"/><rect x="1295" y="342" width="19" height="20" fill="#f8dcf0"/>
<rect x="1257" y="487" width="19" height="20" fill="#fdeef8"/><rect x="1276" y="487" width="20" height="20" fill="#f5cbe8"/><rect x="1296" y="487" width="19" height="20" fill="#f6d3ec"/>
<rect x="1256" y="545" width="61" height="21" fill="#efefef"/>
<path d="M1276.3,545V566M1296.7,545V566" stroke="#fff" stroke-width="1.4"/>
<rect x="1465" y="394" width="73" height="49" fill="#fbe5c4"/>

<g stroke="#000" stroke-width="2.6" fill="none">
<path d="M806,283H840" marker-end="url(#a)"/>
<path d="M898,283H933" marker-end="url(#a)"/>
<path d="M989,283H1038M1038,237V341M1038,237H1109" marker-end="url(#a)"/>
<path d="M1038,341H1109" marker-end="url(#a)"/>
<path d="M1172,230H1335V283"/>
<path d="M1347,293H1371" marker-end="url(#a)"/>
<path d="M1283,312V339" marker-end="url(#a)"/>
<path d="M1319,356H1335V305"/>
<path d="M1172,306H1203V340"/>
<path d="M1215,351H1253" marker-end="url(#a)"/>
<path d="M1059,403H1203V362"/>
<path d="M806,424H840" marker-end="url(#a)"/>
<path d="M899,424H951" marker-end="url(#a)"/>
<path d="M979,423H1026" marker-end="url(#a)"/>
<path d="M1059,444H1203V486"/>
<path d="M1215,496H1250" marker-end="url(#a)"/>
<path d="M1283,542V512" marker-end="url(#a)"/>
<path d="M804,562H840" marker-end="url(#a)"/>
<path d="M899,562H935" marker-end="url(#a)"/>
<path d="M992,561H1038M1038,516V619M1038,516H1111" marker-end="url(#a)"/>
<path d="M1038,619H1111" marker-end="url(#a)"/>
<path d="M1170,552H1203V508"/>
<path d="M1177,623H1336V573"/>
<path d="M1322,497H1336V551"/>
<path d="M1348,562H1371" marker-end="url(#a)"/>
<path d="M1408,291H1438V562H1408"/>
<path d="M1438,420H1462" marker-end="url(#a)"/>
</g>
<g fill="#fff" stroke="#16263a" stroke-width="2.6">
<circle cx="1335" cy="294" r="11"/><circle cx="1203" cy="351" r="11"/><circle cx="1203" cy="497" r="11"/><circle cx="1336" cy="562" r="11"/>
</g>
<path d="M1329,288l12,12M1341,288l-12,12M1197,345l12,12M1209,345l-12,12M1197,491l12,12M1209,491l-12,12M1330,556l12,12M1342,556l-12,12" stroke="#000" stroke-width="1.8"/>

<g class="m" font-size="25">
<text x="776" y="292">T<tspan class="s" font-size="16" dy="4">3</tspan></text>
<text x="764" y="432">e<tspan class="s" font-size="16" dy="4">1,3</tspan></text>
<text x="780" y="571">I<tspan class="s" font-size="16" dy="4">1</tspan></text>
</g>
<g class="bm">
<text x="950" y="354">H<tspan class="ss" dy="-9">3</tspan><tspan class="ss" font-weight="normal" dx="-6" dy="13">T</tspan></text>
<text x="1056" y="228">W<tspan class="ss" font-style="normal" font-weight="normal" dy="4">V</tspan></text>
<text x="1056" y="331">W<tspan class="ss" font-style="normal" font-weight="normal" dy="4">K</tspan></text>
<text x="1272" y="274">B<tspan class="ss" font-weight="normal" dy="-9">1,3</tspan><tspan class="ss" font-weight="normal" dx="-17" dy="13">T</tspan></text>
<text x="1254" y="398">A<tspan class="ss" font-weight="normal" dy="-9">3</tspan><tspan class="ss" font-weight="normal" dx="-6" dy="13">T</tspan><tspan font-weight="normal" dx="4" dy="-4">(e</tspan><tspan class="ss" font-weight="normal" font-style="normal" dy="4">1,3</tspan><tspan font-weight="normal" dy="-4">)</tspan></text>
<text x="985" y="408">W<tspan class="ss" font-weight="normal" dy="4">Q</tspan></text>
<text x="954" y="499">H<tspan class="ss" font-weight="normal" font-style="normal" dy="-9">1,3</tspan><tspan class="ss" font-weight="normal" font-style="normal" dx="-17" dy="13">E</tspan></text>
<text x="1262" y="475">A<tspan class="ss" font-weight="normal" dy="-9">1</tspan><tspan class="ss" font-weight="normal" dx="-6" dy="13">I</tspan><tspan font-weight="normal" dy="-4">(e</tspan><tspan class="ss" font-weight="normal" font-style="normal" dy="4">1,3</tspan><tspan font-weight="normal" dy="-4">)</tspan></text>
<text x="1272" y="599">B<tspan class="ss" font-weight="normal" dy="-9">1,3</tspan><tspan class="ss" font-weight="normal" dx="-17" dy="13">I</tspan></text>
<text x="1058" y="512">W<tspan class="ss" font-weight="normal" dy="4">K</tspan></text>
<text x="1058" y="609">W<tspan class="ss" font-weight="normal" dy="4">V</tspan></text>
<text x="952" y="635">H<tspan class="ss" font-weight="normal" dy="-9">1</tspan><tspan class="ss" font-weight="normal" dx="-6" dy="13">I</tspan></text>
<text x="1371" y="380">z<tspan class="ss" font-weight="normal" dy="-9">3</tspan><tspan class="ss" font-weight="normal" dx="-6" dy="13">T</tspan><tspan font-weight="normal" dy="-4">(e</tspan><tspan class="ss" font-weight="normal" font-style="normal" dy="4">1,3</tspan><tspan font-weight="normal" dy="-4">)</tspan></text>
<text x="1371" y="490">z<tspan class="ss" font-weight="normal" dy="-9">1</tspan><tspan class="ss" font-weight="normal" dx="-6" dy="13">I</tspan><tspan font-weight="normal" dy="-4">(e</tspan><tspan class="ss" font-weight="normal" font-style="normal" dy="4">1,3</tspan><tspan font-weight="normal" dy="-4">)</tspan></text>
<text x="1474" y="425">z<tspan class="ss" font-weight="normal" dy="-9">1</tspan><tspan class="ss" font-weight="normal" dx="-6" dy="13">I</tspan><tspan dx="3" dy="-4">·</tspan><tspan dx="3">z</tspan><tspan class="ss" font-weight="normal" dy="-9">3</tspan><tspan class="ss" font-weight="normal" dx="-6" dy="13">T</tspan></text>
</g>
</g>
</svg>
</body></html>
